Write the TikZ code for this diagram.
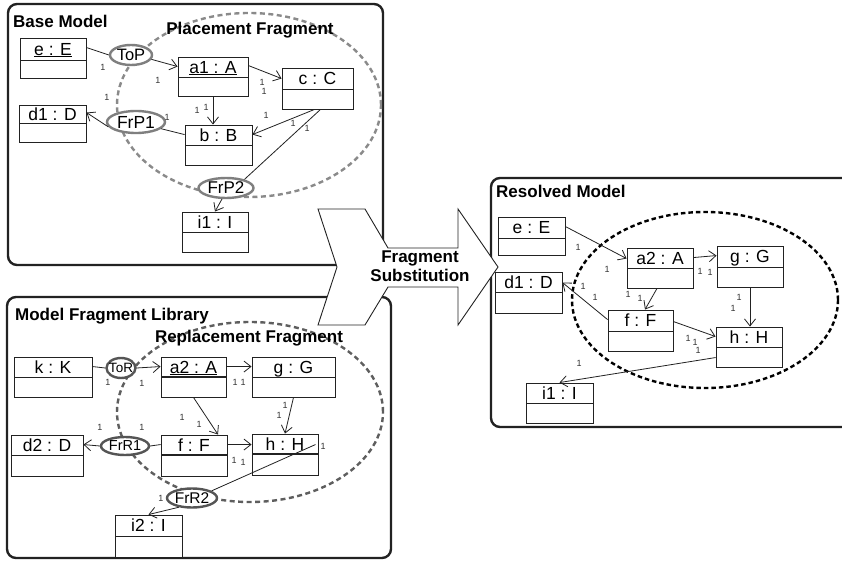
\documentclass[tikz,border=0pt]{standalone}
\usepackage{fontspec}
\setmainfont{Liberation Sans}
\usetikzlibrary{arrows.meta,shapes.geometric,calc}
\definecolor{tagA}{HTML}{7F7F7F}
\definecolor{tagB}{HTML}{555555}
\definecolor{dashA}{HTML}{8A8A8A}
\definecolor{dashB}{HTML}{5E5E5E}
\definecolor{ink}{HTML}{222222}
\newcommand\ctext[1]{\makebox[0pt]{\raisebox{-0.5\height}[0pt][0pt]{#1}}}
\tikzset{
  panel/.style={draw=ink, line width=2.4pt, rounded corners=9pt, fill=white},
  ttl/.style={font=\fontsize{17}{19}\selectfont\bfseries, inner sep=0pt},
  objb/.style={draw=ink, line width=0.9pt, fill=white, inner sep=0pt},
  divl/.style={draw=ink, line width=0.9pt},
  divthick/.style={draw=ink, line width=2pt},
  olbl/.style={font=\fontsize{17.5}{19}\selectfont, inner sep=0pt},
  one/.style={font=\fontsize{9}{10}\selectfont, inner sep=0pt, text=black!80},
  conn/.style={draw=ink, line width=0.8pt},
  arr/.style={conn, -{Straight Barb[length=7pt,width=11pt]}},
  tag/.style={ellipse, line width=2.4pt, fill=white, inner sep=0pt},
  fragA/.style={draw=dashA, line width=2.4pt, dash pattern=on 5pt off 3.5pt},
  fragB/.style={draw=dashB, line width=2.4pt, dash pattern=on 5pt off 3.5pt},
  fragC/.style={draw=black, line width=2.4pt, dash pattern=on 4.5pt off 3pt},
}
% name, x1, y1, x2, y2, ydiv, label, divider style
\newcommand\objbox[8]{%
  \node[objb, minimum width={(#4-#2)*1pt}, minimum height={(#5-#3)*1pt}] (#1) at ({(#2+#4)/2},{(#3+#5)/2}) {};
  \draw[#8] (#2,#6) -- (#4,#6);
  \node[olbl] (#1-l) at ({(#2+#4)/2},{(#3+#6)/2}) {\ctext{#7}};
}
\begin{document}
\begin{tikzpicture}[x=1pt,y=-1pt]
\useasboundingbox (0,0) rectangle (842,561);

% ---------------- panels
\path[panel] (8,4) rectangle (383,265);
\path[panel] (7,297) rectangle (391,558);
\begin{scope}
  \clip (0,0) rectangle (842,561);
  \path[panel] (491,178) rectangle (880,427);
\end{scope}

% ---------------- Base Model
\node[ttl, anchor=base west] (tBase) at (13,28) {Base Model};
\draw[fragA] (249,105) ellipse [x radius=132pt, y radius=92pt];
\node[ttl, anchor=base] (tPlace) at (250,35) {Placement Fragment};

\objbox{eE}{20}{38}{86}{78}{60}{\underline{e : E}}{divl}
\objbox{a1A}{178}{57}{248}{96}{77}{\underline{a1 : A}}{divl}
\objbox{cC}{282}{68}{353}{109}{89}{c : C}{divl}
\objbox{bB}{185}{125}{252}{165}{145}{b : B}{divl}
\objbox{d1D}{19}{105}{86}{142}{123}{d1 : D}{divl}
\objbox{i1I}{182}{212}{248}{252}{232}{i1 : I}{divl}

\node[tag, draw=tagA, minimum width=42pt, minimum height=20pt, font=\fontsize{16.5}{18}\selectfont] (ToP) at (131,55) {\ctext{ToP}};
\node[tag, draw=tagA, minimum width=58pt, minimum height=22pt, font=\fontsize{17.5}{19}\selectfont] (FrP1) at (136,122) {\ctext{FrP1}};
\node[tag, draw=tagA, minimum width=55pt, minimum height=20pt, font=\fontsize{17}{19}\selectfont] (FrP2) at (226,188) {\ctext{FrP2}};

\draw[conn] ([yshift=-10pt]eE.north east) -- (ToP.west);
\draw[arr] (ToP.-12) -- ([yshift=-10pt]a1A.north west);
\draw[arr] ([yshift=-9pt]a1A.north east) -- ([yshift=-11pt]cC.north west);
\draw[arr] (a1A.south) -- (a1A.south |- bB.north);
\draw[arr] ([xshift=-3pt]cC.south) -- ([yshift=-10pt]bB.north east);
\draw[conn] ([xshift=3pt]cC.south) -- (FrP2.25);
\draw[arr] (FrP2.250) -- (i1I.north);
\draw[conn] ([yshift=-10pt]bB.north west) -- (FrP1.-15);
\draw[arr] (FrP1.190) -- ([yshift=-8pt]d1D.north east);

\foreach \p [count=\i] in {(103,67),(158,80),(107,97),(167,117),(197,110),(206,107),(262,82),(264,91),(266,115),(293,123),(307,128)}
  \node[one] (bl\i) at \p {1};

% ---------------- Model Fragment Library
\node[ttl, anchor=base west] (tLib) at (15,320) {Model Fragment Library};
\draw[fragB] (250,412) ellipse [x radius=133pt, y radius=90pt];
\node[ttl, anchor=base] (tRepl) at (249,342) {Replacement Fragment};

\objbox{kK}{14}{357}{92}{397}{377}{k : K}{divl}
\objbox{a2A}{161}{357}{226}{397}{377}{\underline{a2 : A}}{divthick}
\objbox{gG}{252}{357}{335}{397}{377}{g : G}{divl}
\objbox{d2D}{11}{435}{83}{476}{455}{d2 : D}{divl}
\objbox{fF}{161}{435}{227}{476}{455}{f : F}{divthick}
\objbox{hH}{252}{434}{318}{475}{454}{h : H}{divthick}
\objbox{i2I}{115}{515}{182}{557}{536}{i2 : I}{divl}

\node[tag, draw=tagB, minimum width=29pt, minimum height=20pt, font=\fontsize{13.5}{15}\selectfont] (ToR) at (121,368) {\ctext{ToR}};
\node[tag, draw=tagB, minimum width=48pt, minimum height=18pt, font=\fontsize{14.5}{16}\selectfont] (FrR1) at (125,446) {\ctext{FrR1}};
\node[tag, draw=tagB, minimum width=50pt, minimum height=19pt, font=\fontsize{15.5}{17}\selectfont] (FrR2) at (192,498) {\ctext{FrR2}};

\draw[conn] ([yshift=-10pt]kK.north east) -- (ToR.west);
\draw[arr] (ToR.east) -- ([yshift=-10pt]a2A.north west);
\draw[arr] ([yshift=-10pt]a2A.north east) -- ([yshift=-10pt]gG.north west);
\draw[arr] (a2A.south) -- ([xshift=24pt]fF.north);
\draw[arr] (gG.south) -- (hH.north);
\draw[arr] ([yshift=-10pt]fF.north east) -- ([yshift=-11pt]hH.north west);
\draw[conn] ([yshift=-10pt]fF.north west) -- (FrR1.east);
\draw[arr] (FrR1.west) -- ([yshift=-10pt]d2D.north east);
\draw[conn] ([xshift=-3pt,yshift=-11pt]hH.north east) -- (FrR2.20);
\draw[arr] (FrR2.215) -- (i2I.north);

\foreach \p [count=\i] in {(108,382),(142,383),(235,382),(243,382),(182,417),(199,424),(285,405),(279,415),(100,427),(142,427),(234,460),(243,462),(323,446),(161,498)}
  \node[one] (ll\i) at \p {1};

% ---------------- Resolved Model
\node[ttl, anchor=base west] (tRes) at (496,198) {Resolved Model};
\draw[fragC] (705,300) ellipse [x radius=133pt, y radius=88pt];

\objbox{eE2}{498}{217}{565}{255}{238}{e : E}{divl}
\objbox{a2A2}{627}{248}{693}{288}{268}{a2 : A}{divl}
\objbox{gG2}{717}{246}{783}{287}{267}{g : G}{divl}
\objbox{d1D2}{495}{272}{562}{313}{292}{d1 : D}{divl}
\objbox{fF2}{608}{310}{673}{351}{331}{f : F}{divl}
\objbox{hH2}{716}{327}{782}{367}{347}{h : H}{divl}
\objbox{i1I2}{526}{383}{593}{423}{403}{i1 : I}{divl}

\draw[arr] ([yshift=-10pt]eE2.north east) -- ([yshift=-11pt]a2A2.north west);
\draw[arr] ([yshift=-10pt]a2A2.north east) -- ([yshift=-10pt]gG2.north west);
\draw[arr] ([xshift=-3pt]a2A2.south) -- ([xshift=4.5pt]fF2.north);
\draw[arr] (gG2.south) -- (gG2.south |- hH2.north);
\draw[arr] ([yshift=-12pt]fF2.north east) -- ([yshift=-10pt]hH2.north west);
\draw[arr] ([yshift=-10pt]fF2.north west) -- ([yshift=-11pt]d1D2.north east);
\draw[arr] ([yshift=-31pt]hH2.north west) -- (i1I2.north);

\foreach \p [count=\i] in {(578,247),(607,269),(700,271),(710,272),(628,294),(640,298),(739,297),(733,308),(688,338),(695,342),(698,350),(583,286),(595,297),(579,363)}
  \node[one] (rl\i) at \p {1};

% ---------------- Fragment Substitution arrow
\draw[ink, line width=0.9pt, fill=white, line join=miter]
  (318,209) -- (365,209) -- (388,248) -- (458,248) -- (458,209) -- (498,267)
  -- (458,325) -- (458,287) -- (388,287) -- (365,325) -- (318,325) -- (337,267) -- cycle;
\node[ttl, anchor=base] (fs1) at (420,262) {Fragment};
\node[ttl, anchor=base] (fs2) at (420,281) {Substitution};
\end{tikzpicture}
\end{document}
